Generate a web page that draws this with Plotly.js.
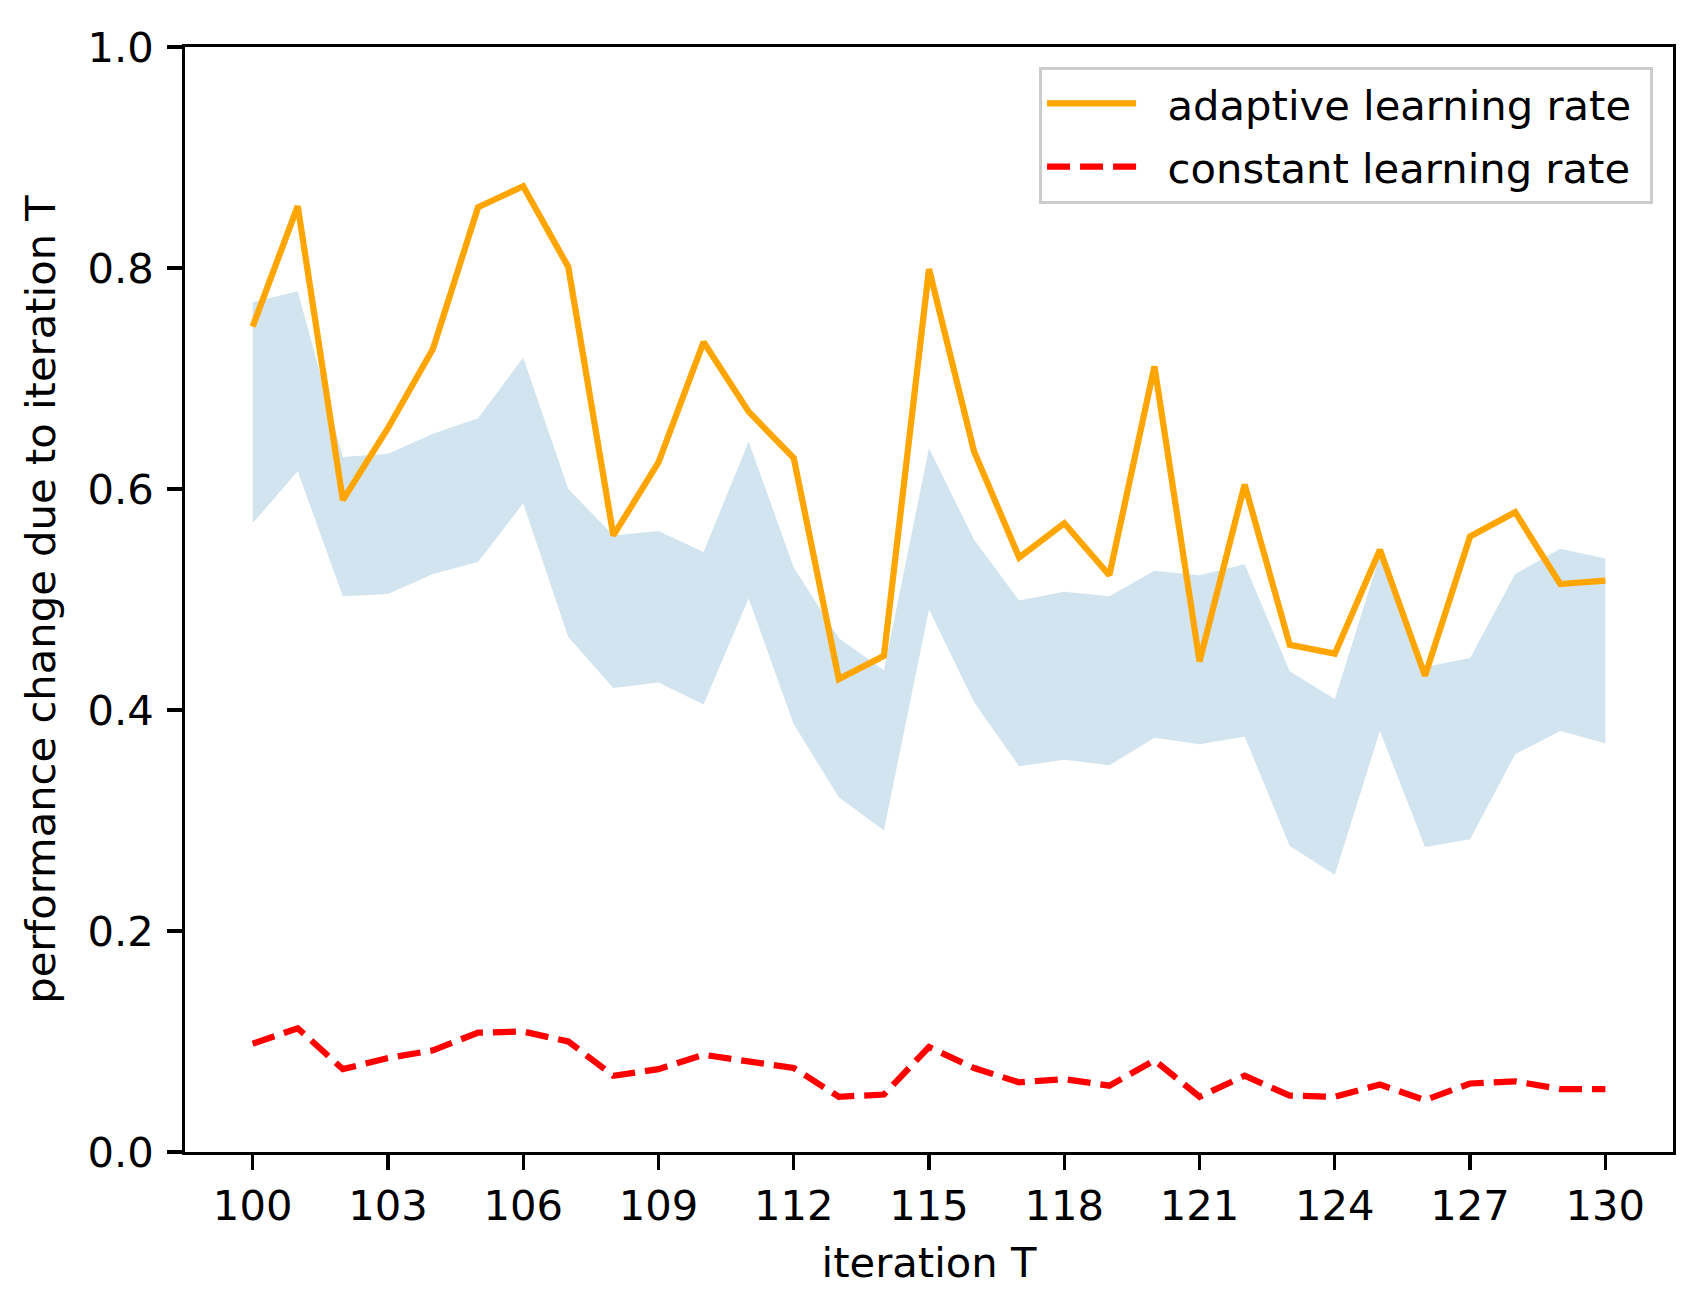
<!DOCTYPE html>
<html>
<head>
<meta charset="utf-8">
<script src="https://cdn.plot.ly/plotly-3.0.1.min.js"></script>
<style>
  html, body { margin: 0; padding: 0; background: #ffffff; }
  #chart { width: 1702px; height: 1315px; }
</style>
</head>
<body>
<div id="chart"></div>
<script>
// ---- data ----
var iterations = [100,101,102,103,104,105,106,107,108,109,110,111,112,113,114,115,116,117,118,119,120,121,122,123,124,125,126,127,128,129,130];
var adaptiveRate = [0.747,0.856,0.590,0.655,0.727,0.855,0.874,0.801,0.558,0.624,0.733,0.670,0.628,0.428,0.449,0.799,0.634,0.538,0.569,0.522,0.711,0.444,0.604,0.459,0.451,0.545,0.431,0.557,0.579,0.514,0.517];
var bandUpper = [0.769,0.779,0.629,0.632,0.650,0.664,0.719,0.600,0.558,0.562,0.543,0.643,0.529,0.465,0.436,0.637,0.554,0.499,0.507,0.503,0.526,0.522,0.532,0.435,0.410,0.540,0.439,0.447,0.523,0.546,0.537];
var bandLower = [0.569,0.616,0.503,0.505,0.523,0.534,0.587,0.466,0.420,0.425,0.405,0.501,0.387,0.321,0.291,0.491,0.407,0.349,0.355,0.350,0.375,0.369,0.376,0.277,0.251,0.381,0.276,0.283,0.360,0.381,0.370];
var constantRate = [0.098,0.112,0.075,0.085,0.092,0.108,0.109,0.100,0.069,0.075,0.088,0.082,0.076,0.050,0.052,0.095,0.076,0.063,0.066,0.060,0.083,0.050,0.069,0.051,0.050,0.061,0.047,0.062,0.064,0.057,0.057];
var xTickVals = [100,103,106,109,112,115,118,121,124,127,130];
var yTickVals = [0.0,0.2,0.4,0.6,0.8,1.0];
var seriesNames = ['adaptive learning rate', 'constant learning rate'];

var FONT = 'DejaVu Sans, Liberation Sans, sans-serif';
var GAP = '\u00a0\u00a0';   // spacing between legend line sample and label
function legendLabel(s) { return GAP + s + '\u00a0'; }

var traces = [
  {
    x: iterations, y: bandLower, type: 'scatter', mode: 'lines',
    line: {width: 0, color: 'rgba(0,0,0,0)'}, showlegend: false, hoverinfo: 'skip',
    legendgroup: 'band'
  },
  {
    x: iterations, y: bandUpper, type: 'scatter', mode: 'lines',
    line: {width: 0, color: 'rgba(0,0,0,0)'}, fill: 'tonexty',
    fillcolor: 'rgba(31,119,180,0.2)', showlegend: false, hoverinfo: 'skip',
    legendgroup: 'band'
  },
  {
    x: iterations, y: adaptiveRate, type: 'scatter', mode: 'lines',
    name: legendLabel(seriesNames[0]), line: {color: '#FFA500', width: 6.25}, legendgroup: 'a'
  },
  {
    x: iterations, y: constantRate, type: 'scatter', mode: 'lines',
    name: legendLabel(seriesNames[1]), line: {color: '#FF0000', width: 6.25, dash: '23px,10px'}, legendgroup: 'b'
  }
];

var axisCommon = {
  showgrid: false, zeroline: false,
  showline: true, linecolor: '#000000', linewidth: 3.3, mirror: true,
  ticks: 'outside', ticklen: 14.6, tickwidth: 3.3, tickcolor: '#000000',
  tickfont: {family: FONT, size: 41.7, color: '#000000'}
};

var layout = {
  width: 1702, height: 1315,
  margin: {l: 185, r: 29, t: 47, b: 163, pad: 0},
  paper_bgcolor: '#ffffff', plot_bgcolor: '#ffffff',
  font: {family: FONT, size: 41.7, color: '#000000'},
  xaxis: Object.assign({}, axisCommon, {
    range: [98.5, 131.5], tickmode: 'array', tickvals: xTickVals,
    ticktext: xTickVals.map(String),
    title: {text: 'iteration T', font: {family: FONT, size: 41.7, color: '#000000'}, standoff: 20}
  }),
  yaxis: Object.assign({}, axisCommon, {
    range: [0, 1], tickmode: 'array', tickvals: yTickVals,
    ticktext: yTickVals.map(function (v) { return v.toFixed(1); }),
    ticklabelstandoff: 5,
    title: {text: 'performance change due to iteration T', font: {family: FONT, size: 41.7, color: '#000000'}, standoff: 20}
  }),
  legend: {
    x: 0.9866, y: 0.982, xanchor: 'right', yanchor: 'top',
    bgcolor: 'rgba(255,255,255,0.8)', bordercolor: '#cccccc', borderwidth: 3,
    font: {family: FONT, size: 41.7, color: '#000000'},
    traceorder: 'grouped', tracegroupgap: 6,
    itemwidth: 89
  },
  showlegend: true
};

Plotly.newPlot('chart', traces, layout, {displayModeBar: false, staticPlot: true});
</script>
</body>
</html>
